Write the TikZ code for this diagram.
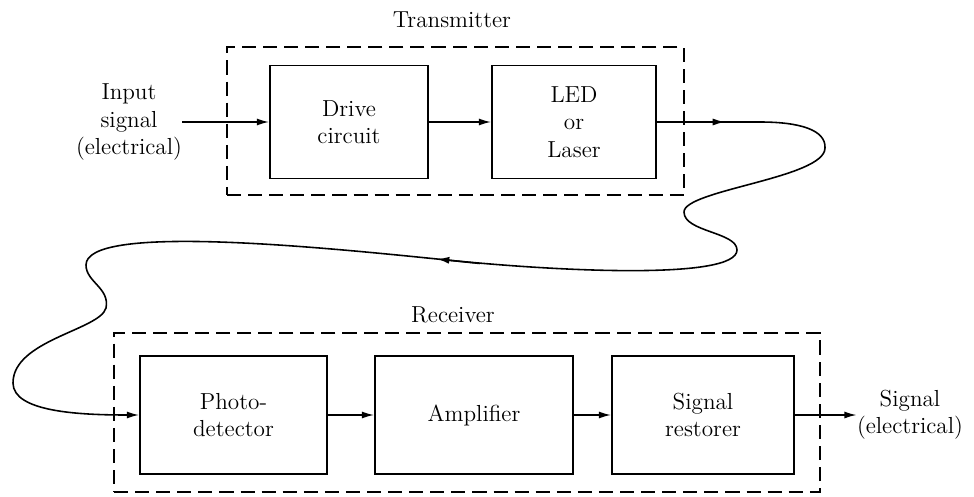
\documentclass[tikz,border=0pt]{standalone}
\usetikzlibrary{arrows.meta}
\begin{document}
\begin{tikzpicture}[x=0.02cm, y=-0.02cm,
  every node/.style={font=\fontsize{13.2}{15.5}\selectfont, align=center},
  block/.style={draw, line width=1pt, inner sep=0pt},
  group/.style={draw, dash pattern=on 8pt off 4pt, line width=1.2pt, inner sep=0pt},
  arr/.style={line width=0.9pt, -{Latex[length=7pt,width=4pt]}}]
  \useasboundingbox (0,0) rectangle (974,497);

  \node[group, minimum width=9.14cm, minimum height=2.96cm] (tx) at (455.5,121) {};
  \node[group, minimum width=14.12cm, minimum height=3.18cm] (rx) at (467,412.5) {};
  \node (txlabel) at (452,20) {Transmitter};
  \node (rxlabel) at (453,315) {Receiver};

  \node[block, minimum width=3.16cm, minimum height=2.26cm] (drive) at (349,122) {Drive\\circuit};
  \node[block, minimum width=3.28cm, minimum height=2.26cm] (led) at (574,122) {LED\\or\\Laser};
  \node[block, minimum width=3.74cm, minimum height=2.36cm] (photo) at (233.5,415) {Photo-\\detector};
  \node[block, minimum width=3.96cm, minimum height=2.36cm] (amp) at (474,415) {Amplifier};
  \node[block, minimum width=3.64cm, minimum height=2.36cm] (rest) at (703,415) {Signal\\restorer};

  \node[inner sep=0pt] (in) at (129,122) {Input\\signal\\(electrical)};
  \node[inner sep=0pt] (out) at (910,415) {Signal\\(electrical)};

  \coordinate (f1) at (725,122);
  \coordinate (f2) at (437,259);
  \coordinate (f3) at (480,263.5);

  \draw[arr] (in) -- (drive);
  \draw[arr] (drive) -- (led);
  \draw[arr] (photo) -- (amp);
  \draw[arr] (amp) -- (rest);
  \draw[arr] (rest) -- (out);

  % fibre
  \draw[arr] (led.east) -- (f1);
  \draw[arr] (f3) -- (f2);
  \draw[arr] (led.east) -- (760,122) .. controls (800,122) and (826,130) .. (825,148)
    .. controls (825,178) and (684,190) .. (684,212)
    .. controls (684,232) and (737,232) .. (737,250)
    .. controls (737,280) and (560,272) .. (f2)
    .. controls (300,245) and (86,225) .. (86,265)
    .. controls (86,282) and (110,288) .. (106,308)
    .. controls (100,330) and (13,340) .. (13,383)
    .. controls (13,412) and (80,415) .. (photo.west);
\end{tikzpicture}
\end{document}
